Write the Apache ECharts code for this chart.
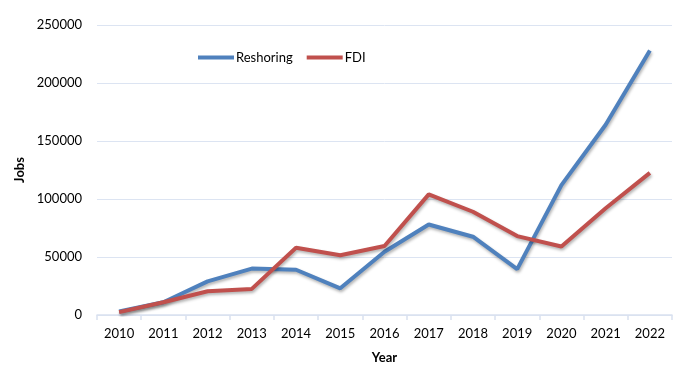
<!DOCTYPE html>
<html><head><meta charset="utf-8">
<script src="https://cdn.jsdelivr.net/npm/echarts@6/dist/echarts.min.js"></script>
<style>html,body{margin:0;padding:0;background:#fff}#c{width:700px;height:378px}</style>
</head><body><div id="c"></div>
<script>
var years = ['2010','2011','2012','2013','2014','2015','2016','2017','2018','2019','2020','2021','2022'];
var reshoring = [3000, 11000, 29000, 40000, 39000, 23000, 54500, 78000, 67500, 39500, 112000, 164000, 228000];
var fdi = [2500, 11000, 20500, 22500, 58000, 51500, 59500, 104000, 89000, 68000, 59000, 92000, 122500];
var yTicks = [0, 50000, 100000, 150000, 200000, 250000];
var FONT = 'Lato, "Open Sans", sans-serif';
var chart = echarts.init(document.getElementById('c'));
function lineSeries(name, data, color) {
  return {
    name: name, type: 'line', data: data, symbol: 'none',
    lineStyle: { width: 4, color: color, shadowColor: 'rgba(0,0,0,0.3)', shadowBlur: 3, shadowOffsetY: 2, shadowOffsetX: 1 },
    itemStyle: { color: color }, emphasis: { disabled: true }
  };
}
chart.setOption({
  animation: false,
  textStyle: { fontFamily: FONT },
  legend: {
    left: 193, top: 46, itemWidth: 36, itemHeight: 4, itemGap: 14, icon: 'rect',
    textStyle: { fontFamily: FONT, fontSize: 13, color: '#000', padding: [0, 0, 0, -3] },
    data: ['Reshoring', 'FDI']
  },
  grid: { left: 97, right: 28, top: 25, bottom: 63, containLabel: false },
  xAxis: {
    type: 'category', data: years, boundaryGap: true,
    name: 'Year', nameLocation: 'middle', nameGap: 36,
    nameTextStyle: { fontFamily: FONT, fontSize: 13, fontWeight: 'bold', color: '#000' },
    axisLine: { lineStyle: { color: '#D9E1F0', width: 1.5 } },
    axisTick: { show: true, length: 5, lineStyle: { color: '#D9E1F0', width: 1.5 } },
    axisLabel: { fontFamily: FONT, fontSize: 13, color: '#000', margin: 12 }
  },
  yAxis: {
    type: 'value', min: yTicks[0], max: yTicks[yTicks.length - 1], interval: 50000,
    name: 'Jobs', nameLocation: 'middle', nameGap: 66, nameRotate: 90,
    nameTextStyle: { fontFamily: FONT, fontSize: 13, fontWeight: 'bold', color: '#000' },
    axisLine: { show: false }, axisTick: { show: false },
    axisLabel: { fontFamily: FONT, fontSize: 13, color: '#000', margin: 15, formatter: function (v) { return String(v); } },
    splitLine: { lineStyle: { color: '#DCE4F2', width: 1 } }
  },
  series: [lineSeries('Reshoring', reshoring, '#4F81BD'), lineSeries('FDI', fdi, '#C0504D')]
});
</script></body></html>
